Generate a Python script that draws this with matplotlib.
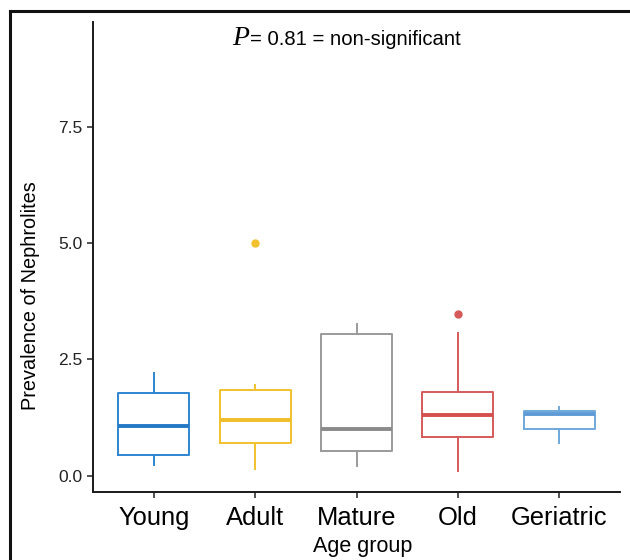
import matplotlib
matplotlib.use("Agg")
import matplotlib.pyplot as plt
from matplotlib.lines import Line2D

categories = ["Young", "Adult", "Mature", "Old", "Geriatric"]
whislo = [0.23, 0.15, 0.21, 0.10, 0.70]
q1 = [0.45, 0.71, 0.54, 0.83, 1.01]
med = [1.07, 1.19, 1.00, 1.30, 1.32]
q3 = [1.77, 1.85, 3.04, 1.79, 1.40]
whishi = [2.20, 1.96, 3.27, 3.06, 1.47]
outliers = [[], [5.0], [], [3.47], []]
colors = ["#2E86D0", "#F2C12E", "#9A9A9A", "#D65A5A", "#6FA8DC"]
median_colors = ["#2479C4", "#EFBE28", "#8A8A8A", "#D4504F", "#5E9BD6"]
yticks = [0.0, 2.5, 5.0, 7.5]

plt.rcParams['font.family'] = ['Liberation Sans', 'DejaVu Sans']

fig = plt.figure(figsize=(6.3, 5.6), dpi=100)
ax = fig.add_axes([93/630, 1-492/560, (620-93)/630, (492-22)/560])

for i, c in enumerate(categories):
    stats = [dict(whislo=whislo[i], q1=q1[i], med=med[i], q3=q3[i],
                  whishi=whishi[i], fliers=outliers[i], label=c)]
    ax.bxp(stats, positions=[i+1], widths=0.7, showcaps=False,
           boxprops=dict(color=colors[i], linewidth=1.4),
           whiskerprops=dict(color=colors[i], linewidth=1.4),
           medianprops=dict(color=median_colors[i], linewidth=2.8),
           flierprops=dict(marker='o', markerfacecolor=colors[i],
                           markeredgecolor=colors[i], markersize=5))

ax.set_xlim(0.4, 5.6)
ax.set_ylim(-0.35, 9.75)
ax.set_yticks(yticks)
ax.set_yticklabels([f"{v:.1f}" for v in yticks], fontsize=12.5, color="#222222")
ax.set_xticks(range(1, len(categories)+1))
ax.set_xticklabels(categories, fontsize=18.4, color="black")
for s in ["top", "right"]:
    ax.spines[s].set_visible(False)
for s in ["left", "bottom"]:
    ax.spines[s].set_linewidth(1.4)
    ax.spines[s].set_color("#1a1a1a")
ax.tick_params(axis='both', length=4, width=1.2, color="#333333")
ax.tick_params(axis='x', pad=6)
ax.set_xlabel("Age group", fontsize=15.5)
ax.xaxis.set_label_coords(0.511, -0.094)
ax.set_ylabel("Prevalence of Nephrolites", fontsize=14.3)
ax.yaxis.set_label_coords(-0.100, 0.417)

fig.text(0.368, 0.92, "P", fontsize=20, style='italic', family='Liberation Serif', va='baseline')
fig.text(0.397, 0.92, "= 0.81 = non-significant", fontsize=14.6, va='baseline')

# outer frame lines
fig.add_artist(Line2D([10/630, 1.0], [1-11/560, 1-11/560], color="#111111", linewidth=2.2))
fig.add_artist(Line2D([10/630, 10/630], [0.0, 1-11/560], color="#111111", linewidth=2.2))

fig.savefig("out.png", dpi=100)
